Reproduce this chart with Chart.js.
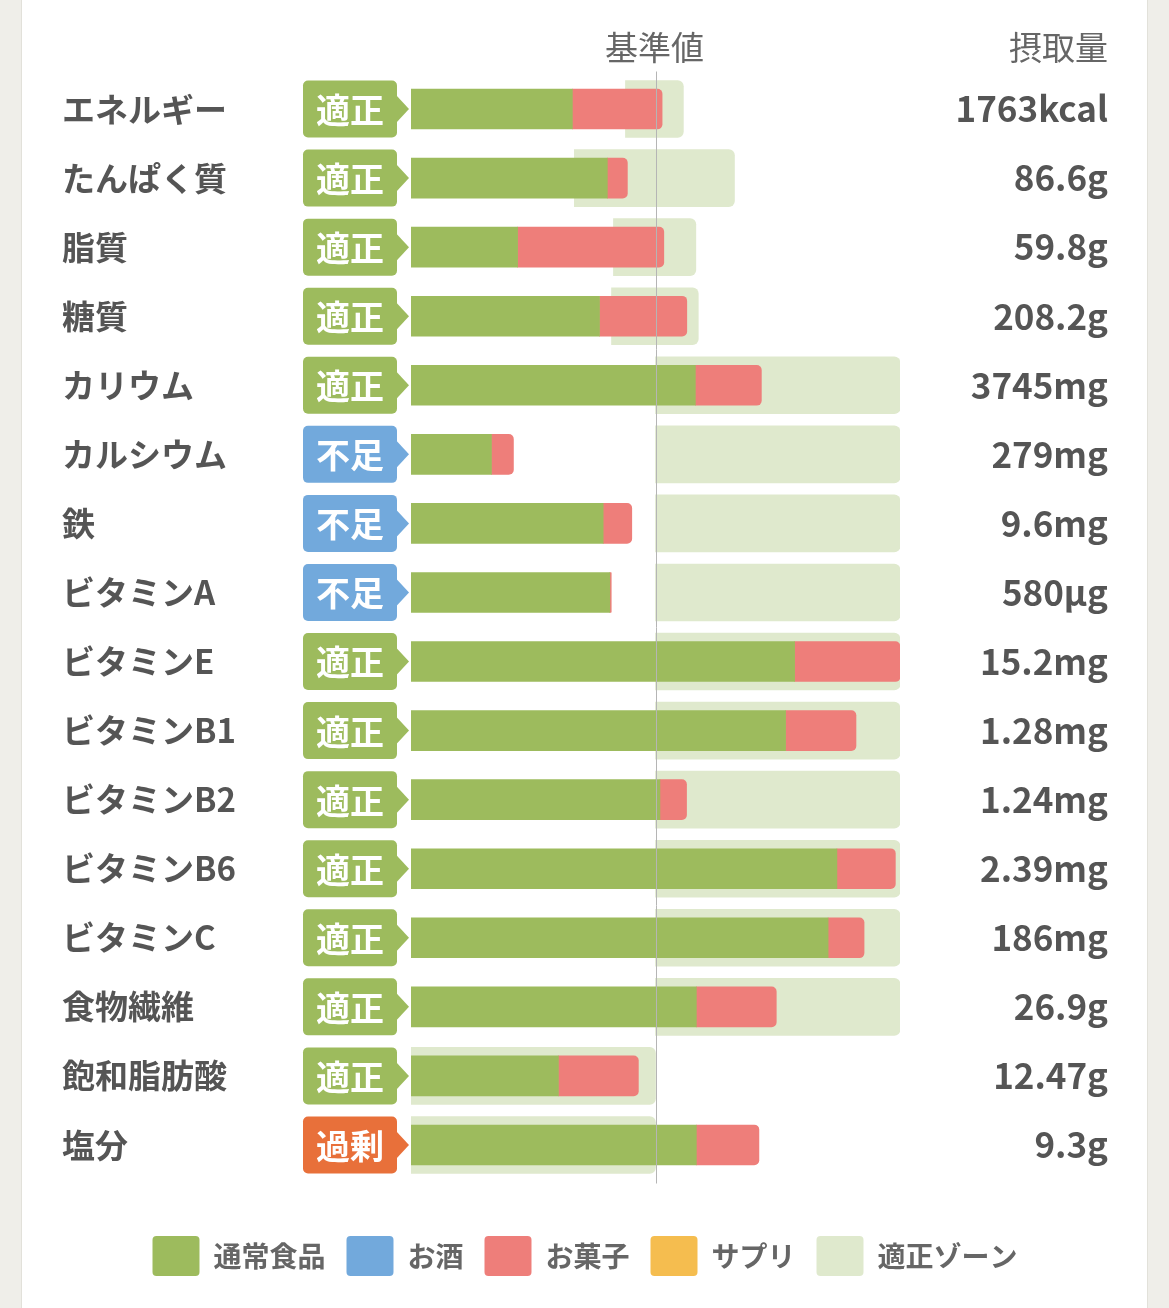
<!DOCTYPE html>
<html lang="ja">
<head>
<meta charset="utf-8">
<title>栄養素の摂取状況</title>
<script src="https://cdn.jsdelivr.net/npm/chart.js@4.4.1/dist/chart.umd.min.js"></script>
<style>
    html, body { margin: 0; padding: 0; background: #efeee9; }
    #wrap { position: relative; width: 1169px; height: 1308px; overflow: hidden; }
    #card {
        position: absolute; left: 21px; top: 0; width: 1125px; height: 1308px;
        background: #fff; border-left: 1px solid #e2e1da; border-right: 1px solid #e2e1da;
    }
    #nutrientChart { position: absolute; left: 0; top: 0; }
</style>
</head>
<body>
<div id="wrap">
    <div id="card"></div>
    <canvas id="nutrientChart" width="1169" height="1308"></canvas>
</div>
<script>
// ========= Data (percent of the reference value = 基準値) =========
const nutrients = ["エネルギー", "たんぱく質", "脂質", "糖質", "カリウム", "カルシウム", "鉄", "ビタミンA",
    "ビタミンE", "ビタミンB1", "ビタミンB2", "ビタミンB6", "ビタミンC", "食物繊維", "飽和脂肪酸", "塩分"];
const intakeLabels = ["1763kcal", "86.6g", "59.8g", "208.2g", "3745mg", "279mg", "9.6mg", "580μg",
    "15.2mg", "1.28mg", "1.24mg", "2.39mg", "186mg", "26.9g", "12.47g", "9.3g"];
const statuses = ["適正", "適正", "適正", "適正", "適正", "不足", "不足", "不足",
    "適正", "適正", "適正", "適正", "適正", "適正", "適正", "過剰"];

const foodPct  = [66.0, 80.3, 43.6, 77.1, 116.3, 32.9, 78.6, 81.3, 156.9, 153.2, 101.8, 174.2, 170.6, 116.7, 60.3, 116.7];
const snackPct = [36.7, 8.2, 59.8, 35.7, 27.0, 9.0, 11.7, 0.6, 43.1, 28.8, 10.9, 23.9, 14.7, 32.7, 32.7, 25.6];
const alcoholPct = [null, null, null, null, null, null, null, null, null, null, null, null, null, null, null, null];
const supplementPct = [null, null, null, null, null, null, null, null, null, null, null, null, null, null, null, null];
const zoneLow  = [87.7, 66.8, 82.8, 82.0, 100, 100, 100, 100, 100, 100, 100, 100, 100, 100, 0, 0];
const zoneHigh = [111.4, 132.3, 116.5, 117.5, 200, 200, 200, 200, 200, 200, 200, 200, 200, 200, 100, 100];

const COLORS = {
    food: "#9dbb5d",
    alcohol: "#72a9dc",
    snack: "#ee7e7a",
    supplement: "#f5bd4f",
    zone: "#dfe9cd",
    text: "#555555"
};
const statusColors = { "適正": "#9dbb5d", "不足": "#72a9dc", "過剰": "#e8703a" };
const FONT = '"Noto Sans CJK JP", "Noto Sans", sans-serif';

Chart.defaults.font.family = FONT;
Chart.defaults.color = COLORS.text;

// ========= Badges, base line and headers =========
const guidePlugin = {
    id: "guide",
    afterDatasetsDraw(chart) {
        const { ctx, chartArea, scales } = chart;
        const x = Math.round(scales.x.getPixelForValue(100)) + 0.5;

        ctx.save();
        ctx.strokeStyle = "#b5b5b5";
        ctx.lineWidth = 1;
        ctx.beginPath();
        ctx.moveTo(x, chartArea.top - 3);
        ctx.lineTo(x, chartArea.bottom + 4);
        ctx.stroke();

        const left = chartArea.left - 108;
        const right = chartArea.left - 14;
        const tip = chartArea.left - 2;
        statuses.forEach((s, i) => {
            const yc = scales.y.getPixelForValue(i);
            const h = 57;
            ctx.fillStyle = statusColors[s];
            ctx.beginPath();
            ctx.roundRect(left, yc - h / 2, right - left, h, 5);
            ctx.fill();
            ctx.beginPath();
            ctx.moveTo(right - 1, yc - 14);
            ctx.lineTo(tip, yc);
            ctx.lineTo(right - 1, yc + 14);
            ctx.closePath();
            ctx.fill();
            ctx.fillStyle = "#ffffff";
            ctx.font = "bold 34px " + FONT;
            ctx.textAlign = "center";
            ctx.textBaseline = "middle";
            ctx.fillText(s, (left + right) / 2, yc + 1);
        });

        ctx.fillStyle = "#666666";
        ctx.font = "normal 33px " + FONT;
        ctx.textBaseline = "middle";
        ctx.textAlign = "center";
        ctx.fillText("基準値", x - 2, chartArea.top - 27);
        ctx.textAlign = "right";
        ctx.fillText("摂取量", scales.y2.right, chartArea.top - 27);
        ctx.restore();
    }
};

new Chart(document.getElementById("nutrientChart"), {
    type: "bar",
    data: {
        labels: nutrients,
        datasets: [
            {
                label: "通常食品",
                data: foodPct.map(v => [0, v]),
                backgroundColor: COLORS.food,
                barThickness: 40,
                grouped: false,
                borderRadius: { topLeft: 5, bottomLeft: 5, topRight: 0, bottomRight: 0 }
            },
            {
                label: "お酒",
                data: alcoholPct,
                backgroundColor: COLORS.alcohol,
                barThickness: 40,
                grouped: false
            },
            {
                label: "お菓子",
                data: snackPct.map((v, i) => [foodPct[i], foodPct[i] + v]),
                backgroundColor: COLORS.snack,
                barThickness: 40,
                grouped: false,
                borderRadius: { topLeft: 0, bottomLeft: 0, topRight: 5, bottomRight: 5 }
            },
            {
                label: "サプリ",
                data: supplementPct,
                backgroundColor: COLORS.supplement,
                barThickness: 40,
                grouped: false
            },
            {
                label: "適正ゾーン",
                data: zoneLow.map((v, i) => [v, zoneHigh[i]]),
                backgroundColor: COLORS.zone,
                barThickness: 57,
                grouped: false,
                borderRadius: { topLeft: 6, bottomLeft: 6, topRight: 6, bottomRight: 6 }
            }
        ]
    },
    options: {
        indexAxis: "y",
        responsive: false,
        animation: false,
        layout: {
            padding: { left: 62, right: 61, top: 74.5, bottom: 22 }
        },
        plugins: {
            tooltip: { enabled: false },
            legend: {
                position: "bottom",
                labels: {
                    boxWidth: 47,
                    boxHeight: 40,
                    padding: 21,
                    color: "#666666",
                    useBorderRadius: true,
                    borderRadius: 4,
                    font: { size: 28, weight: "bold" }
                }
            }
        },
        scales: {
            x: {
                min: 0,
                max: 200,
                position: "bottom",
                ticks: { display: false },
                grid: { display: false },
                border: { display: false },
                afterFit: (scale) => { scale.height = 35.5; }
            },
            y: {
                position: "left",
                grid: { display: false },
                border: { display: false },
                ticks: {
                    crossAlign: "far",
                    autoSkip: false,
                    color: COLORS.text,
                    font: { size: 33, weight: "bold" }
                },
                afterFit: (scale) => { scale.width = 349; }
            },
            y2: {
                type: "category",
                labels: intakeLabels,
                position: "right",
                offset: true,
                grid: { display: false },
                border: { display: false },
                ticks: {
                    crossAlign: "far",
                    autoSkip: false,
                    color: COLORS.text,
                    font: { size: 35, weight: "bold" }
                },
                afterFit: (scale) => { scale.width = 208; }
            }
        }
    },
    plugins: [guidePlugin]
});
</script>
</body>
</html>
